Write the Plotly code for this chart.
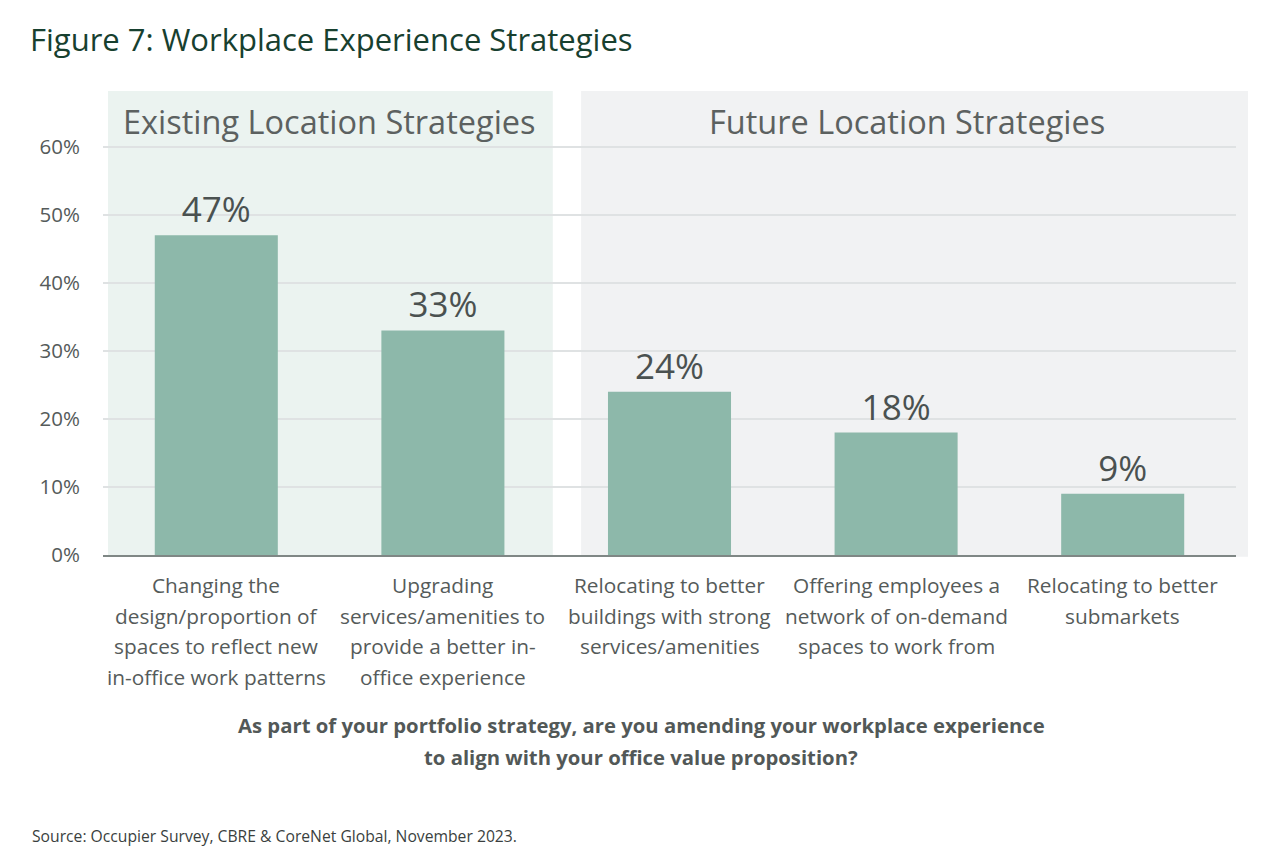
import plotly.graph_objects as go

# data
categories = [
    "Changing the<br>design/proportion of<br>spaces to reflect new<br>in-office work patterns",
    "Upgrading<br>services/amenities to<br>provide a better in-<br>office experience",
    "Relocating to better<br>buildings with strong<br>services/amenities",
    "Offering employees a<br>network of on-demand<br>spaces to work from",
    "Relocating to better<br>submarkets",
]
values = [47, 33, 24, 18, 9]
y_ticks = [0, 10, 20, 30, 40, 50, 60]
group_labels = ["Existing Location Strategies", "Future Location Strategies"]

title = "Figure 7: Workplace Experience Strategies"
question = [
    "As part of your portfolio strategy, are you amending your workplace experience",
    "to align with your office value proposition?",
]
source = "Source: Occupier Survey, CBRE & CoreNet Global, November 2023."

FONT = "Open Sans"
BAR = "#8db8aa"
TEXT = "#4a5150"
LABEL = "#555b5a"

# plot area in pixels (page adds an 8px body margin)
PLOT_H = 464
LINE_H = 30.6


def px_to_paper(dy):
    # pixels below the x axis -> paper y
    return -dy / PLOT_H


def build_figure():
    fig = go.Figure()
    fig.add_trace(go.Bar(
        x=list(range(len(categories))),
        y=values,
        marker=dict(color=BAR, line=dict(width=0)),
        text=[f"{v}%" for v in values],
        textposition="outside",
        textfont=dict(family=FONT, size=35, color=TEXT),
        cliponaxis=False,
        hoverinfo="skip",
    ))

    # background panels behind the two groups
    fig.add_shape(type="rect", xref="paper", yref="paper", x0=0.0044, x1=0.397, y0=-0.004, y1=1,
                  fillcolor="#ebf3f0", line=dict(width=0), layer="below")
    fig.add_shape(type="rect", xref="paper", yref="paper", x0=0.422, x1=1.0106, y0=-0.004, y1=1,
                  fillcolor="#f1f2f3", line=dict(width=0), layer="below")

    fig.add_annotation(x=0.5, y=63.7, xref="x", yref="y", text=group_labels[0], showarrow=False,
                       font=dict(family=FONT, size=32.5, color="#5c6160"))
    fig.add_annotation(x=3.05, y=63.7, xref="x", yref="y", text=group_labels[1], showarrow=False,
                       font=dict(family=FONT, size=32.5, color="#5c6160"))

    # category labels, one annotation per line to get the taller line spacing
    for i, cat in enumerate(categories):
        for j, line in enumerate(cat.split("<br>")):
            fig.add_annotation(x=i, y=px_to_paper(30 + j * LINE_H), xref="x", yref="paper",
                               yanchor="middle", text=line, showarrow=False,
                               font=dict(family=FONT, size=20.8, color=LABEL))

    for j, line in enumerate(question):
        fig.add_annotation(x=0.475, y=px_to_paper(170 + j * 32), xref="paper", yref="paper",
                           yanchor="middle", text=line, showarrow=False,
                           font=dict(family=FONT, size=20.3, color="#525857", weight="bold"))
    fig.add_annotation(x=-0.0644, y=px_to_paper(281), xref="paper", yref="paper", xanchor="left",
                       yanchor="middle", text=source, showarrow=False,
                       font=dict(family=FONT, size=15.7, color="#3a3f3e"))

    fig.update_layout(
        width=1280, height=864,
        margin=dict(l=95, r=52, t=83, b=317),
        paper_bgcolor="white",
        plot_bgcolor="rgba(0,0,0,0)",
        bargap=0.457,
        showlegend=False,
        title=dict(text=title, x=0.0172, xanchor="left", y=0.963, yanchor="middle",
                   font=dict(family=FONT, size=31, color="#17402f", weight=500)),
        font=dict(family=FONT, color=TEXT),
    )
    fig.update_xaxes(
        range=[-0.5, len(categories) - 0.5],
        showticklabels=False,
        showline=True, linecolor="#7f8785", linewidth=2,
        showgrid=False, ticks="",
    )
    fig.update_yaxes(
        range=[0, 68.2],
        tickvals=y_ticks, ticktext=[f"{t}%" for t in y_ticks],
        tickfont=dict(family=FONT, size=20.5, color=LABEL),
        showgrid=True, gridcolor="#dfe2e3", gridwidth=1.5,
        zeroline=False, ticks="", ticklabelstandoff=22,
    )
    return fig


fig = build_figure()
fig.write_html("out.html")
